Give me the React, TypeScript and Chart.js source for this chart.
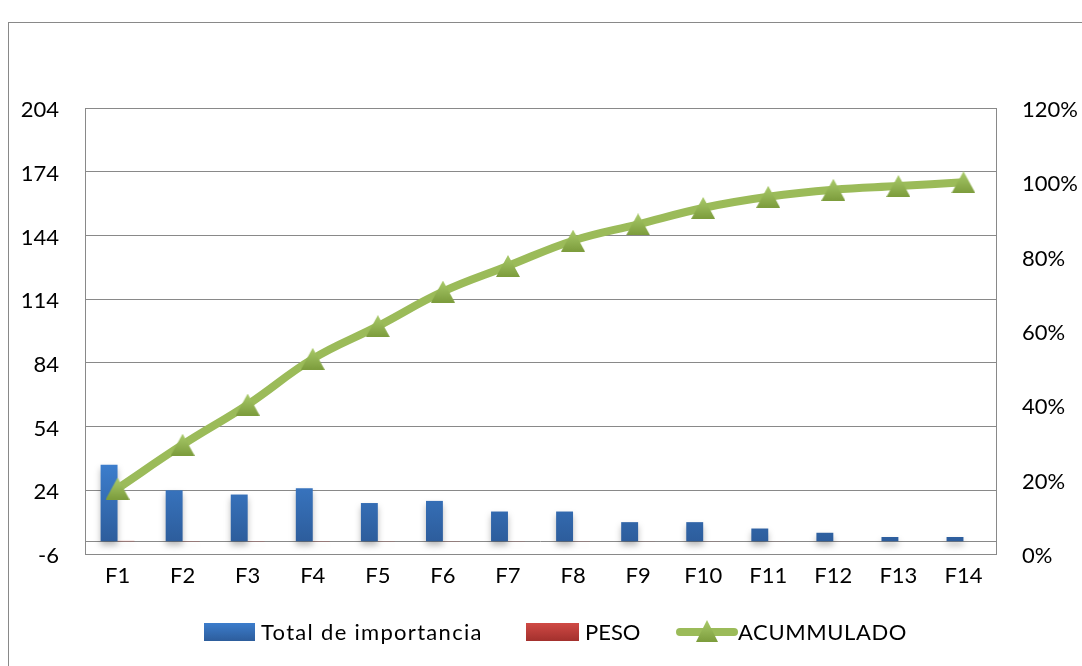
import React, { useEffect, useRef } from "react";
import { Chart, registerables } from "chart.js";

Chart.register(...registerables);

const CATEGORIES = ["F1", "F2", "F3", "F4", "F5", "F6", "F7", "F8", "F9", "F10", "F11", "F12", "F13", "F14"];
const TOTAL_IMPORTANCIA = [36, 24, 22, 25, 18, 19, 14, 14, 9, 9, 6, 4, 2, 2];
const PESO = [0.18, 0.12, 0.11, 0.12, 0.09, 0.09, 0.07, 0.07, 0.04, 0.04, 0.03, 0.02, 0.01, 0.01];
const ACUMULADO = [17.6, 29.4, 40.2, 52.5, 61.3, 70.6, 77.5, 84.3, 88.7, 93.1, 96.1, 98.0, 99.0, 100];
const LEFT_TICKS = [-6, 24, 54, 84, 114, 144, 174, 204];
const RIGHT_TICKS = [0, 20, 40, 60, 80, 100, 120];

const FONT_FAMILY = "Lato, 'Open Sans', sans-serif";
const GRID = "#898989";
const GREEN = "#9BBB59";

function makeTriangle(w: number, h: number) {
  const c = document.createElement("canvas");
  c.width = w;
  c.height = h;
  const g = c.getContext("2d")!;
  const grad = g.createLinearGradient(0, 0, 0, h);
  grad.addColorStop(0, "#AACB6B");
  grad.addColorStop(1, "#7C9C3C");
  g.fillStyle = grad;
  g.beginPath();
  g.moveTo(w / 2, 0);
  g.lineTo(w, h);
  g.lineTo(0, h);
  g.closePath();
  g.fill();
  return c;
}

const zeroLine = {
  id: "zeroLine",
  beforeDatasetsDraw(chart: any) {
    const { ctx, chartArea } = chart;
    const y = Math.round(chart.scales.y.getPixelForValue(0)) + 0.5;
    ctx.save();
    ctx.strokeStyle = GRID;
    ctx.lineWidth = 1;
    ctx.beginPath();
    ctx.moveTo(chartArea.left, y);
    ctx.lineTo(chartArea.right, y);
    ctx.stroke();
    ctx.restore();
  },
};

const barShadow = {
  id: "barShadow",
  beforeDatasetDraw(chart: any, args: any) {
    if (args.meta.type !== "bar") return;
    const ctx = chart.ctx;
    ctx.save();
    ctx.shadowColor = "rgba(0,0,0,0.28)";
    ctx.shadowBlur = 6;
    ctx.shadowOffsetY = 4;
  },
  afterDatasetDraw(chart: any, args: any) {
    if (args.meta.type !== "bar") return;
    chart.ctx.restore();
  },
};

export default function App() {
  const ref = useRef<HTMLCanvasElement | null>(null);

  useEffect(() => {
    if (!ref.current) return;
    const tri = makeTriangle(24, 22);
    const font = { family: FONT_FAMILY, size: 22 };
    const maxTotal = Math.max(...TOTAL_IMPORTANCIA);
    const chart = new Chart(ref.current, {
      type: "bar",
      data: {
        labels: CATEGORIES,
        datasets: [
          {
            type: "line",
            label: "ACUMMULADO",
            data: ACUMULADO,
            yAxisID: "y1",
            borderColor: GREEN,
            backgroundColor: GREEN,
            borderWidth: 8,
            borderCapStyle: "round",
            tension: 0.4,
            pointStyle: tri as any,
            pointRadius: 12,
            order: 0,
          } as any,
          {
            type: "bar",
            label: "Total de importancia",
            data: TOTAL_IMPORTANCIA,
            yAxisID: "y",
            backgroundColor: (c: any) => {
              const chart = c.chart;
              if (!chart.chartArea || !chart.scales.y) return "#3467AE";
              const ys = chart.scales.y;
              const g = chart.ctx.createLinearGradient(0, ys.getPixelForValue(maxTotal), 0, ys.getPixelForValue(0));
              g.addColorStop(0, "#3C7DCC");
              g.addColorStop(1, "#2D5D9C");
              return g;
            },
            categoryPercentage: 0.52,
            barPercentage: 1,
            order: 1,
          },
          {
            type: "bar",
            label: "PESO",
            data: PESO,
            yAxisID: "y",
            backgroundColor: "#C0504D",
            categoryPercentage: 0.52,
            barPercentage: 1,
            order: 2,
          },
        ],
      },
      options: {
        responsive: false,
        animation: false,
        devicePixelRatio: 1,
        layout: { padding: { top: 85, left: 0, right: 0, bottom: 0 } },
        plugins: { legend: { display: false }, tooltip: { enabled: false } },
        scales: {
          x: {
            grid: { display: false, drawTicks: false },
            border: { display: true, color: GRID },
            ticks: { color: "#000", font, padding: 9, maxRotation: 0 },
            afterFit: (s: any) => {
              s.height = 112;
            },
          },
          y: {
            type: "linear",
            position: "left",
            min: -6,
            max: 204,
            afterBuildTicks: (s: any) => {
              s.ticks = LEFT_TICKS.map((v) => ({ value: v }));
            },
            afterFit: (s: any) => {
              s.width = 76;
            },
            grid: { color: GRID, drawTicks: false },
            border: { display: true, color: GRID },
            ticks: { color: "#000", font, padding: 26, labelOffset: 2 },
          },
          y1: {
            type: "linear",
            position: "right",
            min: 0,
            max: 120,
            afterBuildTicks: (s: any) => {
              s.ticks = RIGHT_TICKS.map((v) => ({ value: v }));
            },
            afterFit: (s: any) => {
              s.width = 86;
            },
            grid: { display: false, drawTicks: false },
            border: { display: true, color: GRID },
            ticks: { color: "#000", font, padding: 26, labelOffset: 2, callback: (v: any) => `${v}%` },
          },
        },
      },
      plugins: [zeroLine, barShadow],
    });
    return () => chart.destroy();
  }, []);

  const textStyle: React.CSSProperties = {
    fontFamily: FONT_FAMILY,
    fontSize: 22,
    color: "#000",
    lineHeight: "30px",
    whiteSpace: "nowrap",
  };
  const itemStyle = (left: number): React.CSSProperties => ({
    position: "absolute",
    left: left - 9,
    top: 632 - 23 - 15,
    height: 30,
    display: "flex",
    alignItems: "center",
  });

  return (
    <div
      style={{
        position: "absolute",
        left: 8,
        top: 22,
        width: 1074,
        height: 644,
        boxSizing: "border-box",
        borderLeft: `1px solid ${GRID}`,
        borderTop: `1px solid ${GRID}`,
        background: "#fff",
        overflow: "hidden",
      }}
    >
      <canvas ref={ref} width={1073} height={643} style={{ position: "absolute", left: 0, top: 0 }} />
      <div style={itemStyle(204)}>
        <div style={{ width: 51, height: 18, background: "linear-gradient(#3C7DCC, #2D5D9C)", marginRight: 6 }} />
        <span style={{ ...textStyle, letterSpacing: "1.3px" }}>Total de importancia</span>
      </div>
      <div style={itemStyle(526)}>
        <div style={{ width: 53, height: 18, background: "linear-gradient(#D04A45, #A3302D)", marginRight: 6 }} />
        <span style={textStyle}>PESO</span>
      </div>
      <div style={itemStyle(676)}>
        <svg width={62} height={30} style={{ marginRight: 0 }}>
          <defs>
            <linearGradient id="lg" x1="0" y1="0" x2="0" y2="1">
              <stop offset="0" stopColor="#AACB6B" />
              <stop offset="1" stopColor="#7C9C3C" />
            </linearGradient>
          </defs>
          <line x1={4} y1={15} x2={58} y2={15} stroke={GREEN} strokeWidth={8} strokeLinecap="round" />
          <polygon points="31,3 20,25 42,25" fill="url(#lg)" />
        </svg>
        <span style={{ ...textStyle, letterSpacing: "0.6px" }}>ACUMMULADO</span>
      </div>
    </div>
  );
}
